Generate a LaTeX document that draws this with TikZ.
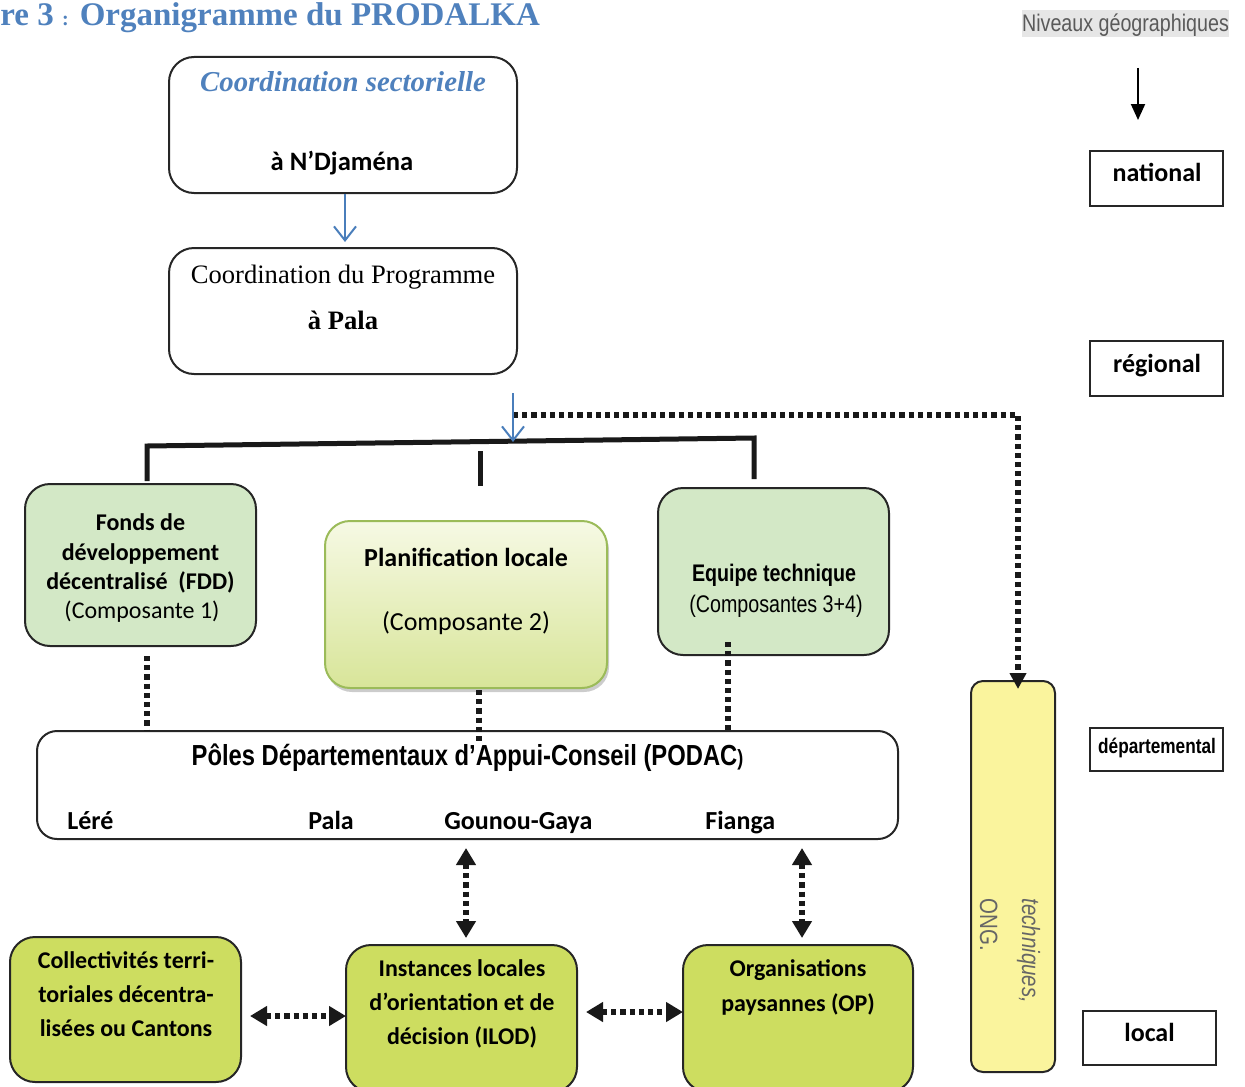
\documentclass[tikz,border=0pt]{standalone}
\usepackage{fontspec}
\setmainfont{Carlito}
\newfontfamily\tnr{Liberation Serif}
\newfontfamily\narrow[FakeStretch=0.82]{Liberation Sans}
\usetikzlibrary{arrows.meta,shadows}
\definecolor{titleblue}{RGB}{79,129,189}
\definecolor{arrowblue}{RGB}{74,126,187}
\definecolor{palegreen}{RGB}{211,232,198}
\definecolor{limegreen}{RGB}{205,221,96}
\definecolor{paleyellow}{RGB}{250,244,157}
\definecolor{plborder}{RGB}{155,187,89}
\definecolor{pltop}{RGB}{246,249,228}
\definecolor{plbottom}{RGB}{216,229,153}
\definecolor{nivbg}{RGB}{230,230,230}
\definecolor{nivtext}{RGB}{90,90,90}
\begin{document}
\begin{tikzpicture}[x=0.5pt,y=-0.5pt,
  box/.style={draw=black!85,line width=1pt,rounded corners=12.5pt,inner sep=0pt},
  lvl/.style={draw=black!85,line width=1pt,minimum width=66.5pt,inner sep=0pt},
  txt/.style={anchor=base,inner sep=0pt},
  dots/.style={line width=2.6pt,dash pattern=on 2.6pt off 2pt,black!90},
  dbl/.style={dots,{Triangle[length=8.5pt,width=9.5pt]}-{Triangle[length=8.5pt,width=9.5pt]}},
  bluearrow/.style={arrowblue,line width=1pt,-{Straight Barb[length=7pt,width=11pt]}},
  fb/.style={font=\bfseries\fontsize{12}{14}\selectfont},
  fr/.style={font=\fontsize{12}{14}\selectfont}]
\useasboundingbox (0,0) rectangle (1245,1086);
\clip (0,0) rectangle (1245,1086);

% title
\node[anchor=base west,inner sep=0pt,text=titleblue,font=\tnr\bfseries\fontsize{16.5}{18}\selectfont] (title) at (0,26) {re 3 {\fontsize{10}{12}\selectfont:} Organigramme du PRODALKA};

% geographic levels
\node[fill=nivbg,minimum width=103.5pt,minimum height=13.5pt,inner sep=0pt] (nivbg) at (1125.5,23.5) {};
\node[txt,text=nivtext,font=\narrow\fontsize{12}{14}\selectfont] (nivtxt) at (1125.5,32) {Niveaux géographiques};
\coordinate (niva) at (1138,68);
\coordinate (nivb) at (1138,120);
\draw[line width=1pt,-{Triangle[length=8pt,width=7pt]}] (niva) -- (nivb);

\node[lvl,minimum height=27.5pt] (nat) at (1156.5,178.5) {};
\node[txt,font=\bfseries\fontsize{13}{15}\selectfont] (natt) at (1157,181) {national};
\node[lvl,minimum height=27.5pt] (reg) at (1156.5,368.5) {};
\node[txt,font=\bfseries\fontsize{13}{15}\selectfont] (regt) at (1157,372) {régional};
\node[lvl,minimum height=21.5pt] (dep) at (1156.5,749.5) {};
\node[txt,font=\narrow\bfseries\fontsize{10.5}{12}\selectfont] (dept) at (1157,753) {départemental};
\node[lvl,minimum height=27pt] (loc) at (1149.5,1038) {};
\node[txt,font=\bfseries\fontsize{13}{15}\selectfont] (loct) at (1149.5,1041) {local};

% top boxes
\node[box,minimum width=174pt,minimum height=68pt] (cs) at (343,125) {};
\node[txt,text=titleblue,font=\tnr\bfseries\itshape\fontsize{14.4}{16}\selectfont] (cst) at (343,91) {Coordination sectorielle};
\node[txt,font=\bfseries\fontsize{13.3}{16}\selectfont] (csl) at (342,170) {à N’Djaména};

\node[box,minimum width=174pt,minimum height=63pt] (cp) at (343,311) {};
\node[txt,font=\tnr\fontsize{13.3}{16}\selectfont] (cpt) at (343,283) {Coordination du Programme};
\node[txt,font=\tnr\bfseries\fontsize{13.3}{16}\selectfont] (cpl) at (343,329) {à Pala};

\draw[bluearrow] ([xshift=1pt]cs.south) -- ([xshift=1pt,yshift=2.5pt]cp.north);

% bracket
\coordinate (bl0) at (147,481);
\coordinate (bl) at (147,446);
\coordinate (br) at (754,438);
\coordinate (br0) at (754,479);
\draw[line width=2.5pt,black!90] (bl0) -- (bl) -- (br) -- (br0);
\coordinate (ms0) at (480,451);
\coordinate (ms1) at (480,486);
\draw[line width=2.5pt,black!90] (ms0) -- (ms1);

% yellow box
\node[box,fill=paleyellow,rounded corners=6pt,minimum width=42pt,minimum height=195.5pt] (yb) at (1013,876.5) {};
\node[anchor=base west,inner sep=0pt,rotate=-90,text=black!60,font=\narrow\itshape\fontsize{12.5}{14}\selectfont] (yt1) at (1022,898) {techniques,};
\node[anchor=base west,inner sep=0pt,rotate=-90,text=black!60,font=\narrow\fontsize{12.5}{14}\selectfont] (yt2) at (980,898) {ONG.};

% dotted line to yellow box
\coordinate (d0) at (513,415);
\coordinate (d1) at (1018,415);
\path (d1 |- yb.north) ++(0,9) coordinate (d2);
\draw[dots,-{Triangle[length=8pt,width=8pt]}] (d0) -- (d1) -- (d2);

\coordinate (a2s) at (513,393);
\coordinate (barmid) at (513,442);
\draw[bluearrow] (a2s) -- (barmid);

% component boxes
\node[box,fill=palegreen,minimum width=115.5pt,minimum height=81pt] (fdd) at (140.5,565) {};
\node[txt,fb] (fdd1) at (140.5,530) {Fonds de};
\node[txt,fb] (fdd2) at (140.5,560) {développement};
\node[txt,fb] (fdd3) at (140.5,589) {décentralisé~ (FDD)};
\node[txt,fr] (fdd4) at (142,618) {(Composante 1)};

\node[box,draw=plborder,top color=pltop,bottom color=plbottom,drop shadow={shadow xshift=1pt,shadow yshift=-2pt,fill=black!40,opacity=0.5},minimum width=141pt,minimum height=83.5pt] (pl) at (466,604.5) {};
\node[txt,font=\bfseries\fontsize{13}{15}\selectfont] (pl1) at (466,566) {Planification locale};
\node[txt,font=\fontsize{13}{15}\selectfont] (pl2) at (466,630) {(Composante 2)};

\node[box,fill=palegreen,minimum width=115.5pt,minimum height=83.5pt] (eq) at (773.5,571.5) {};
\node[txt,font=\narrow\bfseries\fontsize{12}{14}\selectfont] (eq1) at (774,581) {Equipe technique};
\node[txt,font=\narrow\fontsize{12}{14}\selectfont] (eq2) at (776,612) {(Composantes 3+4)};

% PODAC
\node[box,fill=white,rounded corners=10pt,minimum width=430.5pt,minimum height=54pt] (podac) at (467.5,785) {};
\node[txt,font=\narrow\bfseries\fontsize{14.5}{16}\selectfont] (podact) at (467.5,765) {Pôles Départementaux d’Appui-Conseil (PODAC{\fontsize{11}{12}\selectfont)}};
\node[txt,anchor=base west,font=\bfseries\fontsize{13}{15}\selectfont] (c1) at (67,829) {Léré};
\node[txt,anchor=base west,font=\bfseries\fontsize{13}{15}\selectfont] (c2) at (308,829) {Pala};
\node[txt,anchor=base west,font=\bfseries\fontsize{13}{15}\selectfont] (c3) at (444,829) {Gounou-Gaya};
\node[txt,anchor=base west,font=\bfseries\fontsize{13}{15}\selectfont] (c4) at (705,829) {Fianga};

% dotted links to PODAC
\coordinate (v1a) at (147,656);
\coordinate (v1b) at (147,731);
\draw[dots] (v1a) -- (v1b);
\coordinate (v2a) at (479,690);
\coordinate (v2b) at (479,741);
\draw[dots] (v2a) -- (v2b);
\coordinate (v3a) at (728,642);
\coordinate (v3b) at (728,731);
\draw[dots] (v3a) -- (v3b);

% bottom boxes
\node[box,fill=limegreen,minimum width=115.5pt,minimum height=72.5pt] (col) at (125.5,1009.5) {};
\node[txt,fb] (col1) at (126,968) {Collectivités terri-};
\node[txt,fb] (col2) at (126,1002) {toriales décentra-};
\node[txt,fb] (col3) at (126,1036) {lisées ou Cantons};

\node[box,fill=limegreen,minimum width=115.5pt,minimum height=73.5pt] (ins) at (461.5,1018.5) {};
\node[txt,fb] (ins1) at (462,976) {Instances locales};
\node[txt,fb] (ins2) at (462,1010) {d’orientation et de};
\node[txt,fb] (ins3) at (462,1044) {décision (ILOD)};

\node[box,fill=limegreen,minimum width=115pt,minimum height=73.5pt] (org) at (798,1018.5) {};
\node[txt,fb] (org1) at (798,976) {Organisations};
\node[txt,fb] (org2) at (798,1011) {paysannes (OP)};

% double arrows
\coordinate (u1a) at (466,848);
\coordinate (u1b) at (466,938);
\draw[dbl] (u1a) -- (u1b);
\coordinate (u2a) at (802,848);
\coordinate (u2b) at (802,938);
\draw[dbl] (u2a) -- (u2b);
\coordinate (h1a) at (250,1016);
\coordinate (h1b) at (346,1016);
\draw[dbl] (h1a) -- (h1b);
\coordinate (h2a) at (586,1012);
\coordinate (h2b) at (683,1012);
\draw[dbl] (h2a) -- (h2b);
\end{tikzpicture}
\end{document}
